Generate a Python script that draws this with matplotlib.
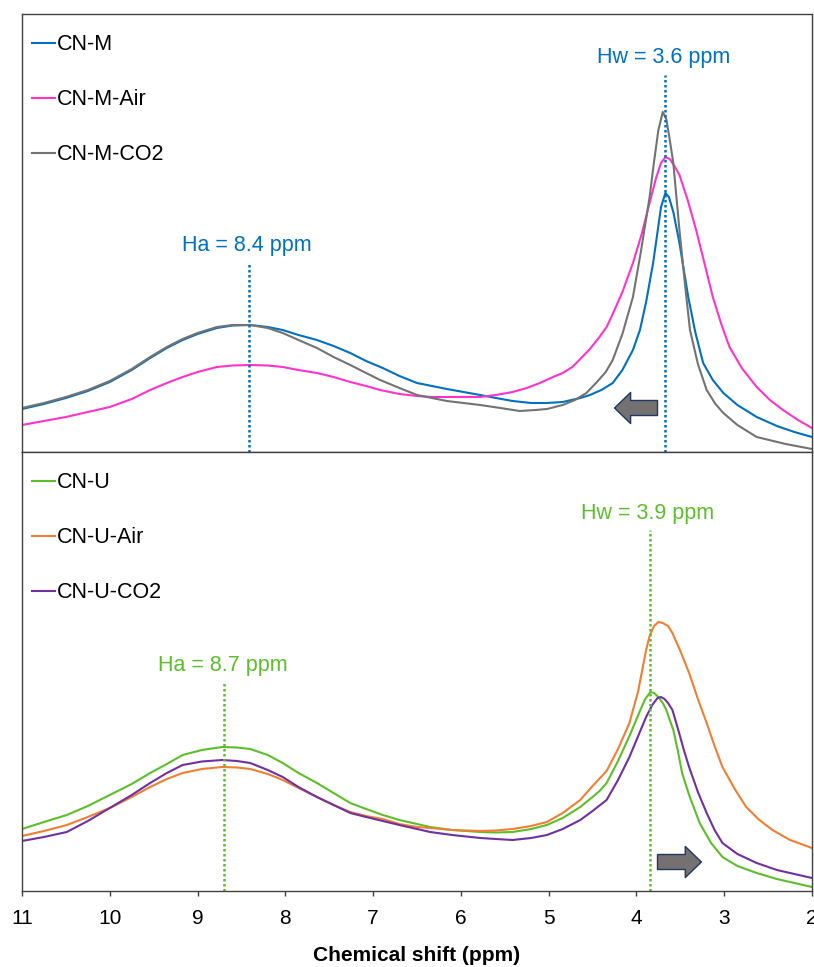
import matplotlib.pyplot as plt

plt.rcParams['font.family'] = ['Liberation Sans', 'DejaVu Sans']

# ---- top panel: CN-M series (ppm, intensity a.u.) ----
ppm_m = [11.0, 10.75, 10.5, 10.25, 10.0, 9.75, 9.54, 9.35, 9.17, 9.0, 8.78, 8.6, 8.40, 8.2,
         8.03, 7.85, 7.64, 7.45, 7.26, 7.08, 6.89, 6.70, 6.50, 6.33, 6.16, 5.97, 5.78, 5.6,
         5.41, 5.2, 5.02, 4.84, 4.64, 4.53, 4.40, 4.27, 4.16, 4.04, 3.96, 3.89, 3.81, 3.76,
         3.72, 3.67, 3.63, 3.58, 3.51, 3.46, 3.41, 3.33, 3.24, 3.13, 3.01, 2.85, 2.63, 2.4,
         2.2, 2.0]
cn_m = [43, 48, 54, 61, 70, 82, 94, 104, 112, 118, 124, 126.5, 127, 125,
        122, 117, 112, 106, 99, 91, 84, 76, 69, 66, 63, 60, 57, 54,
        51, 49, 49, 50, 54, 57, 62, 69, 82, 102, 122, 150, 189, 220,
        245, 259, 255, 240, 209, 182, 155, 120, 89, 72, 59, 47, 35, 26,
        20, 15]

ppm_m_air = [11.0, 10.75, 10.5, 10.25, 10.0, 9.75, 9.54, 9.35, 9.17, 9.0, 8.78, 8.6, 8.40, 8.2,
             8.03, 7.85, 7.64, 7.45, 7.26, 7.08, 6.92, 6.70, 6.50, 6.33, 6.16, 5.97, 5.78, 5.60,
             5.41, 5.25, 5.10, 4.95, 4.84, 4.73, 4.64, 4.53, 4.43, 4.34, 4.27, 4.16, 4.04, 3.94,
             3.85, 3.78, 3.72, 3.67, 3.62, 3.56, 3.51, 3.42, 3.32, 3.22, 3.13, 3.03, 2.94, 2.80,
             2.63, 2.48, 2.33, 2.16, 2.0]
cn_m_air = [27, 31, 35, 40, 45, 53, 62, 69, 75, 80, 85, 86.5, 87, 86.5,
            85, 82, 79, 75, 70, 66, 62, 58, 56, 55, 55, 55, 55, 57,
            60, 64, 69, 75, 79, 85, 93, 103, 114, 125, 138, 160, 189, 218,
            249, 273, 289, 295, 293, 285, 277, 253, 222, 187, 155, 127, 105, 84,
            65, 52, 42, 32, 24]

ppm_m_co2 = [11.0, 10.75, 10.5, 10.25, 10.0, 9.75, 9.54, 9.35, 9.17, 9.0, 8.78, 8.6, 8.40, 8.2,
             8.03, 7.85, 7.64, 7.45, 7.26, 7.08, 6.92, 6.70, 6.50, 6.33, 6.16, 5.97, 5.78, 5.55,
             5.33, 5.15, 5.02, 4.84, 4.70, 4.57, 4.45, 4.35, 4.27, 4.16, 4.04, 3.95, 3.85, 3.80,
             3.75, 3.70, 3.66, 3.62, 3.58, 3.51, 3.45, 3.39, 3.30, 3.20, 3.10, 3.01, 2.85, 2.63,
             2.3, 2.0]
cn_m_co2 = [44, 49, 55, 62, 71, 83, 95, 105, 113, 119, 125, 127, 127, 124,
            119, 112, 104, 95, 87, 79, 72, 64, 57, 54, 51, 49, 47, 44,
            41, 42, 43, 47, 52, 59, 70, 80, 92, 118, 155, 200, 255, 290,
            322, 340, 333, 312, 289, 222, 170, 122, 88, 62, 48, 39, 27, 15,
            8, 3]

# ---- bottom panel: CN-U series ----
ppm_u = [11.0, 10.75, 10.49, 10.25, 10.0, 9.75, 9.54, 9.35, 9.17, 8.95, 8.72, 8.55, 8.40, 8.2,
         8.03, 7.85, 7.64, 7.45, 7.26, 7.08, 6.89, 6.70, 6.50, 6.35, 6.1, 5.78, 5.6, 5.41,
         5.2, 5.02, 4.84, 4.64, 4.50, 4.42, 4.34, 4.21, 4.08, 3.96, 3.90, 3.84, 3.80, 3.75,
         3.70, 3.66, 3.58, 3.53, 3.48, 3.40, 3.28, 3.15, 3.02, 2.85, 2.63, 2.4, 2.2, 2.0]
cn_u = [62, 69, 76, 85, 96, 107, 118, 127, 136, 141, 144, 143.5, 142, 136,
        128, 118, 108, 98, 88, 82, 76, 71, 67, 64, 61, 59, 58.5, 59,
        62, 66, 73, 84, 94, 100, 108, 130, 155, 180, 192, 199, 198, 194,
        188, 181, 161, 141, 118, 96, 68, 48, 34, 25, 18, 12, 8, 4]

ppm_u_air = [11.0, 10.75, 10.49, 10.25, 10.0, 9.75, 9.54, 9.35, 9.17, 8.95, 8.72, 8.55, 8.40, 8.2,
             8.03, 7.85, 7.64, 7.45, 7.26, 7.08, 6.89, 6.70, 6.50, 6.35, 6.1, 5.78, 5.6, 5.41,
             5.2, 5.02, 4.84, 4.64, 4.50, 4.34, 4.21, 4.08, 3.98, 3.89, 3.85, 3.80, 3.75, 3.70,
             3.64, 3.59, 3.50, 3.40, 3.30, 3.20, 3.11, 3.02, 2.88, 2.75, 2.60, 2.45, 2.25, 2.0]
cn_u_air = [55, 60, 66, 74, 83, 94, 104, 112, 118, 122, 124, 123.5, 122, 117,
            111, 103, 94, 86, 79, 75, 72, 67, 64, 63, 61, 60, 60.5, 62,
            65, 69, 78, 91, 105, 120, 142, 168, 200, 241, 255, 265, 269, 268,
            265, 258, 240, 218, 192, 168, 145, 124, 102, 84, 71, 61, 51, 43]

ppm_u_co2 = [11.0, 10.75, 10.49, 10.25, 10.0, 9.75, 9.54, 9.35, 9.17, 8.95, 8.72, 8.55, 8.40, 8.2,
             8.03, 7.85, 7.64, 7.45, 7.26, 7.08, 6.89, 6.70, 6.50, 6.35, 6.1, 5.78, 5.6, 5.41,
             5.2, 5.02, 4.84, 4.64, 4.50, 4.34, 4.21, 4.08, 3.98, 3.89, 3.82, 3.76, 3.72, 3.68,
             3.64, 3.59, 3.52, 3.46, 3.40, 3.30, 3.20, 3.11, 3.02, 2.85, 2.63, 2.4, 2.2, 2.0]
cn_u_co2 = [50, 54, 59, 70, 83, 96, 108, 118, 126, 129.5, 131, 130, 128, 121,
            114, 104, 94, 86, 78, 74, 70, 66, 62, 59, 56, 53, 52, 51,
            53, 56, 62, 71, 80, 91, 111, 134, 155, 174, 186, 193, 194, 192,
            188, 181, 160, 141, 124, 99, 78, 61, 48, 37, 28, 21, 17, 13]

xticks = [11, 10, 9, 8, 7, 6, 5, 4, 3, 2]

# peak marker positions (where the dotted lines sit) and their labels
ha_m, hw_m = 8.41, 3.67
ha_u, hw_u = 8.70, 3.85
ha_m_label, hw_m_label = 'Ha = 8.4 ppm', 'Hw = 3.6 ppm'
ha_u_label, hw_u_label = 'Ha = 8.7 ppm', 'Hw = 3.9 ppm'

blue = '#0070C0'
magenta = '#FF33CC'
grey = '#737373'
green = '#5CBF2A'
orange = '#F07F33'
purple = '#7030A0'
spine_col = '#404040'

W, H = 814, 967
fig = plt.figure(figsize=(W / 100, H / 100), dpi=100)
ax1 = fig.add_axes([22 / W, 1 - 452 / H, 790 / W, 438 / H])
ax2 = fig.add_axes([22 / W, 1 - 891 / H, 790 / W, 439 / H])

ax1.plot(ppm_m, cn_m, color=blue, lw=1.5, label='CN-M')
ax1.plot(ppm_m_air, cn_m_air, color=magenta, lw=1.5, label='CN-M-Air')
ax1.plot(ppm_m_co2, cn_m_co2, color=grey, lw=1.5, label='CN-M-CO2')

ax2.plot(ppm_u, cn_u, color=green, lw=1.5, label='CN-U')
ax2.plot(ppm_u_air, cn_u_air, color=orange, lw=1.5, label='CN-U-Air')
ax2.plot(ppm_u_co2, cn_u_co2, color=purple, lw=1.5, label='CN-U-CO2')

ax1.set_ylim(0, 438)
ax2.set_ylim(0, 439)

# dotted peak lines + labels
ax1.plot([ha_m, ha_m], [0, 189], color=blue, lw=1.8, linestyle=(0, (1, 1)))
ax1.plot([hw_m, hw_m], [0, 377], color=blue, lw=1.8, linestyle=(0, (1, 1)))
ax1.text(8.44, 206, ha_m_label, color=blue, fontsize=15.5, ha='center', va='center')
ax1.text(3.69, 394, hw_m_label, color=blue, fontsize=15.5, ha='center', va='center')

ax2.plot([ha_u, ha_u], [0, 209], color=green, lw=1.8, linestyle=(0, (1, 1)))
ax2.plot([hw_u, hw_u], [0, 361], color=green, lw=1.8, linestyle=(0, (1, 1)))
ax2.text(8.71, 226, ha_u_label, color=green, fontsize=15.5, ha='center', va='center')
ax2.text(3.87, 378, hw_u_label, color=green, fontsize=15.5, ha='center', va='center')

# shift arrows
arrow_style = 'simple,head_length=0.58,head_width=1.12,tail_width=0.54'
for ax, tail, tip, yy in [(ax1, 3.76, 4.25, 44), (ax2, 3.76, 3.26, 29)]:
    ax.annotate('', xy=(tip, yy), xytext=(tail, yy),
                arrowprops=dict(arrowstyle=arrow_style, mutation_scale=20,
                                fc='#767171', ec='#1F3864', lw=1.0,
                                shrinkA=0, shrinkB=0))

for ax in (ax1, ax2):
    ax.set_xlim(11, 2)
    ax.set_yticks([])
    for s in ax.spines.values():
        s.set_color(spine_col)
        s.set_linewidth(1.0)
    ax.legend(loc='upper left', bbox_to_anchor=(0.0127, 0.954), frameon=False,
              fontsize=15.5, handlelength=1.05, handletextpad=0.12,
              labelspacing=1.58, borderpad=0, borderaxespad=0)

ax1.set_xticks([])
ax2.set_xticks(xticks)
ax2.set_xticklabels([str(t) for t in xticks])
ax2.tick_params(axis='x', direction='out', length=3.6, width=1.0,
                color=spine_col, labelsize=15, pad=9)
ax2.set_xlabel('Chemical shift (ppm)', fontsize=15, fontweight='bold', labelpad=13)

fig.savefig('out.png', dpi=100)
